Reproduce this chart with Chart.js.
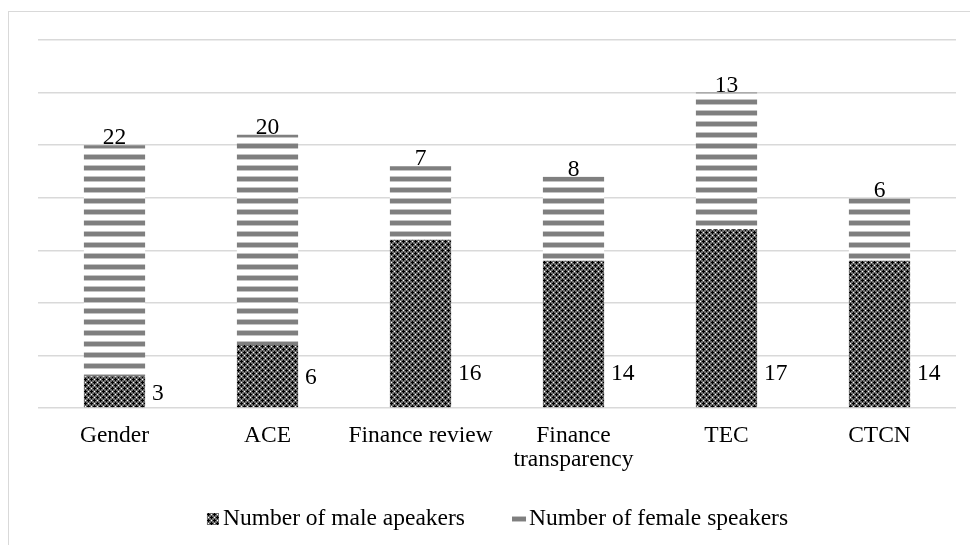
<!DOCTYPE html>
<html>
<head>
<meta charset="utf-8">
<script src="https://cdn.jsdelivr.net/npm/chart.js@4"></script>
<style>
  html, body { margin: 0; padding: 0; background: #fff; overflow: hidden; }
  #wrap { position: relative; width: 970px; height: 545px; }
  #frame { position: absolute; left: 8px; top: 11px; width: 1000px; height: 600px; border: 1px solid #d9d9d9; box-sizing: border-box; }
  #speakersChart { position: absolute; left: 0; top: 0; }
</style>
</head>
<body>
<div id="wrap">
  <div id="frame"></div>
  <canvas id="speakersChart" width="970" height="545"></canvas>
</div>
<script>
// Chart data
const categories = ['Gender', 'ACE', 'Finance review', ['Finance', 'transparency'], 'TEC', 'CTCN'];
const maleSpeakers = [3, 6, 16, 14, 17, 14];
const femaleSpeakers = [22, 20, 7, 8, 13, 6];
const seriesNames = ['Number of male apeakers', 'Number of female speakers'];
const yTicks = [0, 5, 10, 15, 20, 25, 30, 35];

const FONT = '"Liberation Serif", "Times New Roman", serif';
const FONT_SIZE = 23.5;

// Checkered pattern for male bars
function makeMalePattern(ctx) {
    const tile = document.createElement('canvas');
    tile.width = 6;
    tile.height = 6;
    const t = tile.getContext('2d');
    t.fillStyle = '#6c6c6c';
    t.fillRect(0, 0, 6, 6);
    t.fillStyle = '#000';
    [[1, 0], [0, 1], [1, 1], [2, 1], [1, 2], [4, 3], [3, 4], [4, 4], [5, 4], [4, 5]].forEach(p => t.fillRect(p[0], p[1], 1, 1));
    t.fillStyle = '#fff';
    [[4, 1], [1, 4]].forEach(p => t.fillRect(p[0], p[1], 1, 1));
    return ctx.createPattern(tile, 'repeat');
}

// Horizontal stripes for female bars
function makeFemalePattern(ctx) {
    const tile = document.createElement('canvas');
    tile.width = 4;
    tile.height = 11;
    const t = tile.getContext('2d');
    t.fillStyle = '#fff';
    t.fillRect(0, 0, 4, 11);
    t.fillStyle = '#c4c4c4';
    t.fillRect(0, 0, 4, 1);
    t.fillRect(0, 5, 4, 1);
    t.fillStyle = '#7f7f7f';
    t.fillRect(0, 1, 4, 4);
    return ctx.createPattern(tile, 'repeat');
}

const canvas = document.getElementById('speakersChart');
const ctx = canvas.getContext('2d');
const malePattern = makeMalePattern(ctx);
const femalePattern = makeFemalePattern(ctx);

// Value labels: male to the right of the bar, female above it
const valueLabels = {
    id: 'valueLabels',
    afterDatasetsDraw(chart) {
        const c = chart.ctx;
        c.save();
        c.font = FONT_SIZE + 'px ' + FONT;
        c.fillStyle = '#000';
        c.textBaseline = 'middle';
        chart.getDatasetMeta(0).data.forEach((bar, i) => {
            const right = bar.x + bar.width / 2;
            const mid = (bar.y + bar.base) / 2;
            c.textAlign = 'left';
            c.fillText(String(maleSpeakers[i]), right + 7, Math.max(mid + 2, bar.base - 33));
        });
        chart.getDatasetMeta(1).data.forEach((bar, i) => {
            c.textAlign = 'center';
            c.fillText(String(femaleSpeakers[i]), bar.x, bar.y - 7);
        });
        c.restore();
    }
};

// Legend drawn under the axis labels
const bottomLegend = {
    id: 'bottomLegend',
    afterDraw(chart) {
        const c = chart.ctx;
        const area = chart.chartArea;
        c.save();
        c.font = FONT_SIZE + 'px ' + FONT;
        c.textBaseline = 'middle';
        c.textAlign = 'left';
        const markW = 14, gap = 3, spacing = 47;
        const w1 = c.measureText(seriesNames[0]).width;
        const w2 = c.measureText(seriesNames[1]).width;
        const total = markW + gap + w1 + spacing + markW + gap + w2;
        let x = (area.left + area.right) / 2 - total / 2;
        const y = 519;
        c.fillStyle = malePattern;
        c.fillRect(x + 1, y - 6, 12, 12);
        x += markW + gap;
        c.fillStyle = '#000';
        c.fillText(seriesNames[0], x, y);
        x += w1 + spacing;
        c.fillStyle = '#c4c4c4';
        c.fillRect(x, y - 3, markW, 6);
        c.fillStyle = '#7f7f7f';
        c.fillRect(x, y - 2, markW, 4);
        x += markW + gap;
        c.fillStyle = '#000';
        c.fillText(seriesNames[1], x, y);
        c.restore();
    }
};

new Chart(canvas, {
    type: 'bar',
    data: {
        labels: categories,
        datasets: [
            {
                label: seriesNames[0],
                data: maleSpeakers,
                backgroundColor: malePattern,
                borderWidth: 0,
                barPercentage: 0.4,
                categoryPercentage: 1.0
            },
            {
                label: seriesNames[1],
                data: femaleSpeakers,
                backgroundColor: femalePattern,
                borderWidth: 0,
                barPercentage: 0.4,
                categoryPercentage: 1.0
            }
        ]
    },
    options: {
        responsive: false,
        animation: false,
        layout: { padding: { left: 38, right: 14, top: 40, bottom: 0 } },
        plugins: {
            legend: { display: false },
            tooltip: { enabled: false }
        },
        scales: {
            x: {
                stacked: true,
                grid: { display: false, drawTicks: false },
                border: { display: false },
                ticks: {
                    color: '#000',
                    padding: 15,
                    font: { family: FONT, size: FONT_SIZE, lineHeight: 1.05 },
                    maxRotation: 0,
                    autoSkip: false
                },
                afterFit(scale) { scale.height = 137; }
            },
            y: {
                stacked: true,
                min: yTicks[0],
                max: yTicks[yTicks.length - 1],
                afterBuildTicks(scale) { scale.ticks = yTicks.map(v => ({ value: v })); },
                ticks: { display: false },
                grid: { color: '#d9d9d9', lineWidth: 1.5, drawTicks: false },
                border: { display: false },
                afterFit(scale) { scale.width = 0; }
            }
        }
    },
    plugins: [valueLabels, bottomLegend]
});
</script>
</body>
</html>
